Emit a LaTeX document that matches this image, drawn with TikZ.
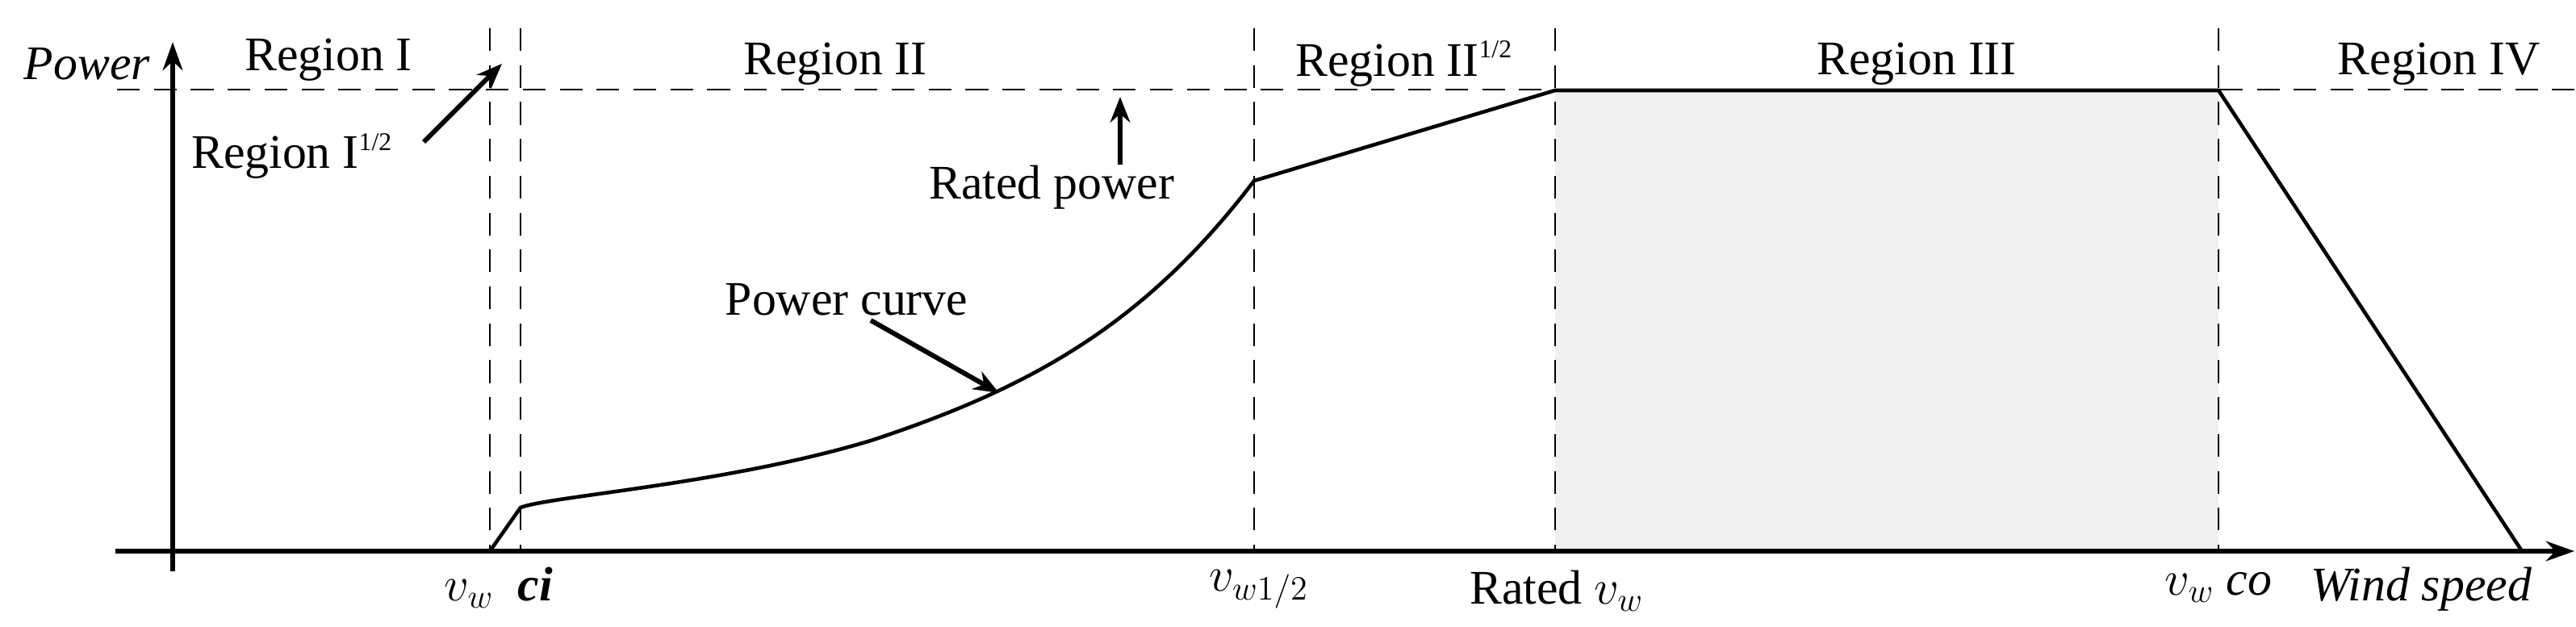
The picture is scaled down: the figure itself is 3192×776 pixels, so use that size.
\documentclass[tikz,border=0pt]{standalone}
\usepackage{fontspec}
\setmainfont{Liberation Serif}
\usetikzlibrary{arrows.meta}
\begin{document}
\begin{tikzpicture}[x=0.01cm,y=-0.01cm,
  lbl/.style={font=\fontsize{17}{17}\selectfont, inner sep=0pt},
  axlbl/.style={font=\fontsize{17}{17}\selectfont\itshape, inner sep=0pt},
  dsh/.style={dashed, dash pattern=on 8pt off 5pt, line width=0.7pt},
  ax/.style={line width=1.7pt, -{Stealth[length=10pt,width=7pt]}},
  crv/.style={line width=1.3pt},
  pointer/.style={line width=1.7pt, -{Stealth[length=9pt,width=7pt]}}]
\useasboundingbox (0,0) rectangle (3192,776);
% shaded region III
\fill[gray!12] (1927,111) rectangle (2749,683);
% dashed lines
\coordinate (rl) at (145,111); \coordinate (rr) at (3190,111);
\draw[dsh] (rl) -- (rr);
\foreach \x/\n in {607/a,645/b,1554/c,1927/d,2749/e}{
  \coordinate (t\n) at (\x,35); \coordinate (b\n) at (\x,683);
  \draw[dsh] (t\n) -- (b\n);
}
% axes
\coordinate (xs) at (143,683); \coordinate (xe) at (3190,683);
\coordinate (ys) at (214,708); \coordinate (ye) at (214,52);
\draw[ax] (xs) -- (xe);
\draw[ax] (ys) -- (ye);
% curve
\coordinate (p0) at (214,683);
\coordinate (p1) at (607,683);
\coordinate (p2) at (645,629);
\coordinate (p3) at (1554,224);
\coordinate (p4) at (1927,112);
\coordinate (p5) at (2749,112);
\coordinate (p6) at (3125,683);
\draw[crv] (p0) -- (p1) -- (p2)
  .. controls (680,615) and (900,600) .. (1079,546)
  .. controls (1280,480) and (1420,400) .. (p3)
  -- (p4) -- (p5) -- (p6);
% top labels
\node[axlbl] (pw) at (108,79) {Power};
\node[lbl] (r1) at (407,74) {Region I};
\node[lbl] (r2) at (1035,79) {Region II};
\node[lbl] (r25) at (1740,79) {Region II\textsuperscript{\fontsize{9}{9}\selectfont 1/2}};
\node[lbl] (r3) at (2375,79) {Region III};
\node[lbl] (r4) at (3022,79) {Region IV};
\node[lbl] (r15) at (362,193) {Region I\textsuperscript{\fontsize{9}{9}\selectfont 1/2}};
\coordinate (r15t) at (622,79);
\draw[pointer] (525,176) -- (r15t);
\node[lbl] (rp) at (1303,232) {Rated power};
\coordinate (rpt) at (1388,120);
\draw[pointer] (1388,204) -- (rpt);
\node[lbl] (pc) at (1049,371) {Power curve};
\coordinate (pct) at (1238,487);
\draw[pointer] (1079,397) -- (pct);
% bottom labels
\node[axlbl] (vci) at (618,728) {$v_w$~~\textbf{\textit{ci}}};
\node[axlbl] (vh) at (1560,730) {$v_{w1/2}$};
\node[lbl] (rv) at (1929,732) {Rated $v_w$};
\node[axlbl] (vco) at (2749,728) {$v_w$~co};
\node[axlbl] (ws) at (3000,730) {Wind speed};
\end{tikzpicture}
\end{document}
